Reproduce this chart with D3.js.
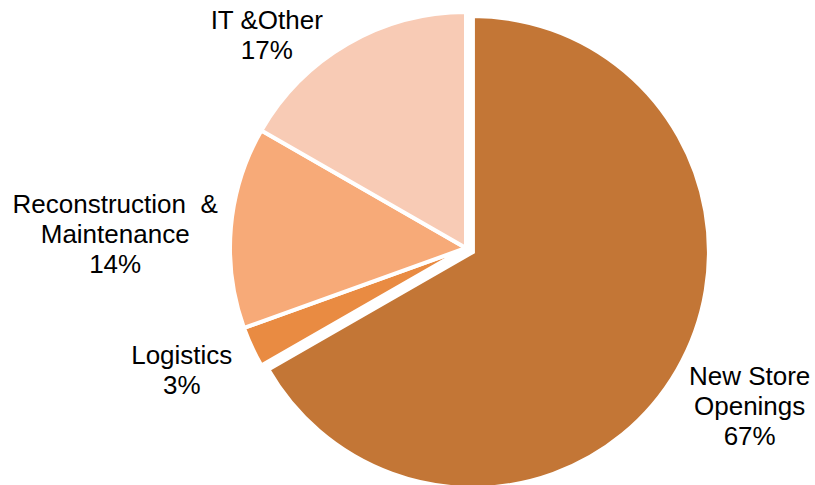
<!DOCTYPE html>
<html>
<head>
    <meta charset="utf-8">
    <script src="https://cdn.jsdelivr.net/npm/d3@7"></script>
    <style>
        body { margin: 0; background: #fff; }
        #chart text.label {
            font-family: "Liberation Sans", Arial, sans-serif;
            font-size: 26px;
            fill: #000;
            white-space: pre;
        }
    </style>
</head>
<body>
    <svg id="chart" width="815" height="485"></svg>
    <script>
        // data
        var categories = ["New Store Openings", "Logistics", "Reconstruction & Maintenance", "IT &Other"];
        var shares = [66.7, 2.8, 13.8, 16.7];
        var labelLines = [["New Store", "Openings"], ["Logistics"], ["Reconstruction  &", "Maintenance"], ["IT &Other"]];
        var colors = ["#C37636", "#E98B42", "#F7AA78", "#F8CBB5"];

        // layout
        var w = 815, h = 485;
        var cx = 466, cy = 248;
        var radius = 236;
        var explode = [8, 0, 0, 0];
        var labelRadius = 300;
        var labelNudge = [[24, 8], [-12, -4], [-52, 12], [-49, 47]];
        var lineH = 30;

        var total = d3.sum(shares);
        var rows = categories.map(function (c, i) {
            return { name: c, value: shares[i], lines: labelLines[i], color: colors[i], i: i };
        });

        var svg = d3.select("#chart")
            .append("g")
            .attr("transform", "translate(" + cx + "," + cy + ")");

        var pie = d3.pie()
            .sort(null)
            .value(function (d) { return d.value; });

        var arc = d3.arc().innerRadius(0).outerRadius(radius);
        var labelArc = d3.arc().innerRadius(labelRadius).outerRadius(labelRadius);

        var arcs = pie(rows);

        // slices
        svg.selectAll("path.slice")
            .data(arcs)
            .enter()
            .append("path")
            .attr("class", "slice")
            .attr("d", arc)
            .attr("transform", function (d) {
                var a = (d.startAngle + d.endAngle) / 2;
                var e = explode[d.data.i];
                return "translate(" + (Math.sin(a) * e) + "," + (-Math.cos(a) * e) + ")";
            })
            .style("fill", function (d) { return d.data.color; })
            .attr("stroke", "#fff")
            .attr("stroke-width", 4)
            .attr("stroke-linejoin", "miter");

        // labels
        var labels = svg.selectAll("text.label")
            .data(arcs)
            .enter()
            .append("text")
            .attr("class", "label")
            .attr("text-anchor", "middle");

        labels.each(function (d) {
            var c = labelArc.centroid(d);
            var n = labelNudge[d.data.i];
            var x = c[0] + n[0];
            var lines = d.data.lines.concat([Math.round(d.data.value / total * 100) + "%"]);
            var y0 = c[1] + n[1] - (lines.length - 1) * lineH / 2 + 9;
            var t = d3.select(this);
            lines.forEach(function (s, k) {
                t.append("tspan")
                    .attr("x", x)
                    .attr("y", y0 + k * lineH)
                    .text(s);
            });
        });
    </script>
</body>
</html>
